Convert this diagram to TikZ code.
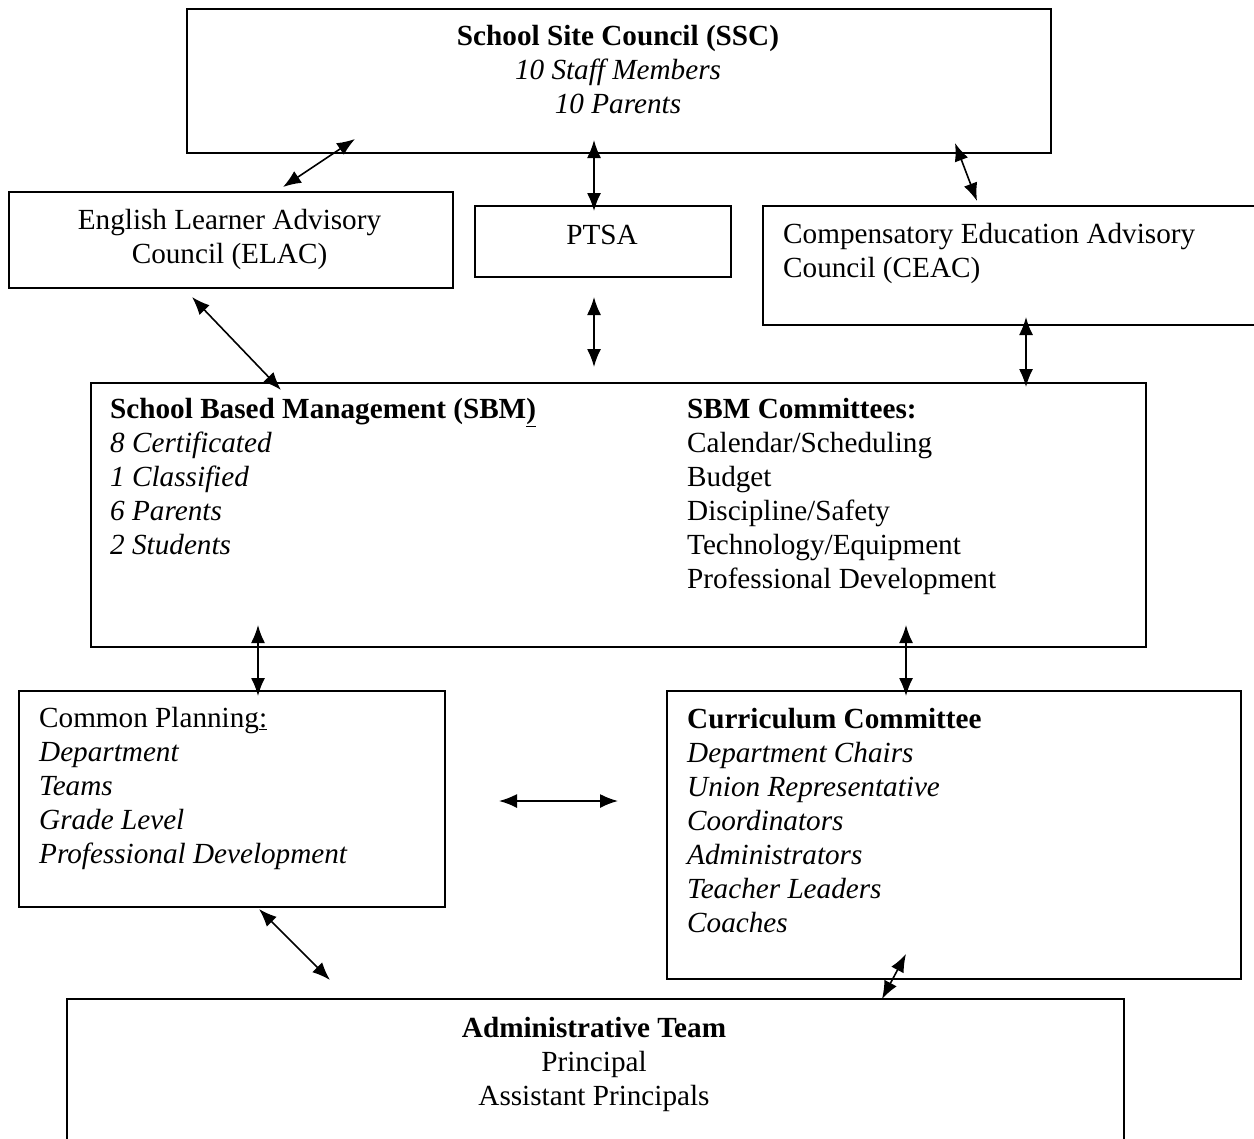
\documentclass[tikz,border=0pt]{standalone}
\usepackage{fontspec}
\setmainfont{Liberation Serif}
\usetikzlibrary{arrows.meta}
\tikzset{
  box/.style={draw=black, line width=2bp, rectangle, inner sep=0pt, anchor=north west},
  txt/.style={inner sep=0pt, font=\fontsize{29.2bp}{34bp}\selectfont},
  conn/.style={line width=1.6bp, {Latex[length=18bp,width=14bp]}-{Latex[length=18bp,width=14bp]}}
}
\begin{document}
\begin{tikzpicture}[x=1bp,y=-1bp]
\clip (0,0) rectangle (1254,1139);
\fill[white] (0,0) rectangle (1254,1139);
% boxes
\node[box, minimum width=864bp, minimum height=144bp] (ssc) at (186,8) {};
\node[box, minimum width=444bp, minimum height=96bp] (elac) at (8,191) {};
\node[box, minimum width=256bp, minimum height=71bp] (ptsa) at (474,205) {};
\node[box, minimum width=510bp, minimum height=119bp] (ceac) at (762,205) {};
\node[box, minimum width=1055bp, minimum height=264bp] (sbm) at (90,382) {};
\node[box, minimum width=426bp, minimum height=216bp] (cp) at (18,690) {};
\node[box, minimum width=574bp, minimum height=288bp] (curr) at (666,690) {};
\node[box, minimum width=1057bp, minimum height=170bp] (admin) at (66,998) {};
% texts
\node[txt, anchor=north, align=center] (ssct) at (618,21.2) {\strut\textbf{School Site Council (SSC)}\\\textit{10 Staff Members}\\\textit{10 Parents}};
\node[txt, anchor=north, align=center] (elact) at (229.5,205.2) {\strut English Learner Advisory\\Council (ELAC)};
\node[txt, anchor=north, align=center] (ptsat) at (602,220.2) {\strut PTSA};
\node[txt, anchor=north west, align=left] (ceact) at (783,219.2) {\strut Compensatory Education Advisory\\Council (CEAC)};
\node[txt, anchor=north west, align=left] (sbmt) at (110,394.2) {\strut\textbf{School Based Management (SBM\underline{)}}\\\textit{8 Certificated}\\\textit{1 Classified}\\\textit{6 Parents}\\\textit{2 Students}};
\node[txt, anchor=north west, align=left] (sbmc) at (687,394.2) {\strut\textbf{SBM Committees:}\\Calendar/Scheduling\\Budget\\Discipline/Safety\\Technology/Equipment\\Professional Development};
\node[txt, anchor=north west, align=left] (cpt) at (39,703.2) {\strut Common Planning\underline{:}\\\textit{Department}\\\textit{Teams}\\\textit{Grade Level}\\\textit{Professional Development}};
\node[txt, anchor=north west, align=left] (currt) at (687,704.2) {\strut\textbf{Curriculum Committee}\\\textit{Department Chairs}\\\textit{Union Representative}\\\textit{Coordinators}\\\textit{Administrators}\\\textit{Teacher Leaders}\\\textit{Coaches}};
\node[txt, anchor=north, align=center] (admint) at (594,1013.2) {\strut\textbf{Administrative Team}\\Principal\\Assistant Principals};
% connector ends
\coordinate (a1s) at (355,139); \coordinate (a1e) at (283,187);
\coordinate (a2s) at (594,140); \coordinate (a2e) at (594,211);
\coordinate (a3s) at (955,143); \coordinate (a3e) at (977,201);
\coordinate (a4s) at (192,297); \coordinate (a4e) at (281,390);
\coordinate (a5s) at (594,297); \coordinate (a5e) at (594,367);
\coordinate (a6s) at (1026,317); \coordinate (a6e) at (1026,387);
\coordinate (a7s) at (258,625); \coordinate (a7e) at (258,696);
\coordinate (a8s) at (906,625); \coordinate (a8e) at (906,696);
\coordinate (a9s) at (499,801); \coordinate (a9e) at (618,801);
\coordinate (a10s) at (259,909); \coordinate (a10e) at (330,980);
\coordinate (a11s) at (906,954); \coordinate (a11e) at (882,999);
\draw[conn] (a1s) -- (a1e);
\draw[conn] (a2s) -- (a2e);
\draw[conn] (a3s) -- (a3e);
\draw[conn] (a4s) -- (a4e);
\draw[conn] (a5s) -- (a5e);
\draw[conn] (a6s) -- (a6e);
\draw[conn] (a7s) -- (a7e);
\draw[conn] (a8s) -- (a8e);
\draw[conn] (a9s) -- (a9e);
\draw[conn] (a10s) -- (a10e);
\draw[conn] (a11s) -- (a11e);
\end{tikzpicture}
\end{document}
